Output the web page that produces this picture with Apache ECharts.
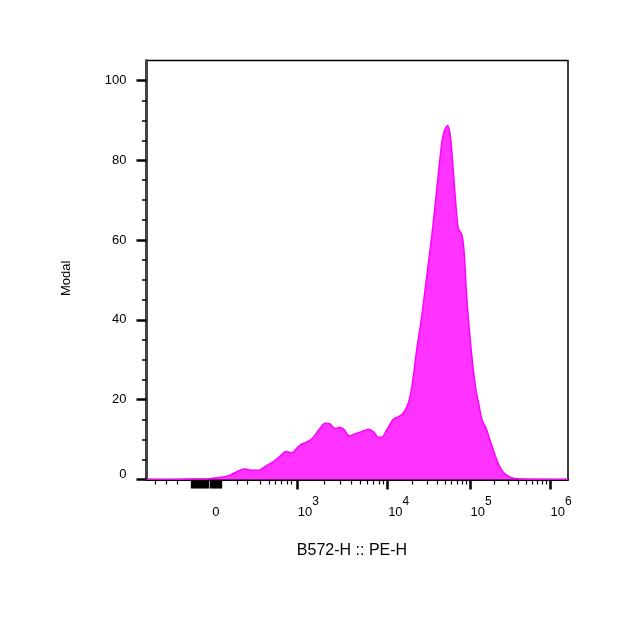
<!DOCTYPE html>
<html>
<head>
<meta charset="utf-8">
<script src="https://cdn.jsdelivr.net/npm/echarts@6/dist/echarts.min.js"></script>
<style>
html,body{margin:0;padding:0;background:#fff;}
#chart{width:629px;height:619px;}
</style>
</head>
<body>
<div id="chart"></div>
<script>
// Histogram x positions in display channels (0..1024, biexponential display scale)
const xChannels = [0, 57, 118, 142, 159, 178.6, 202.9, 222.3, 239.3, 255.6, 271.6, 290.3, 308, 324.3, 338.9, 353.5, 365.6, 377.8, 397.2, 409.4, 421.5, 433.6, 445.8, 458, 470.1, 479.8, 492.7, 506.5, 522.8, 538.8, 551, 563.1, 571.4, 583.5, 599.6, 611.7, 623.9, 636, 645, 656.4, 668.6, 680.7, 692.9, 705, 717.2, 724, 731.7, 737.3, 741.5, 749.5, 757.5, 765.7, 771.3, 777.9, 785.9, 793.9, 800.5, 807.8, 815.1, 824.8, 834.5, 844.2, 853.9, 866.1, 883.1, 907.4, 1024];
// Modal (% of max) values
const modal = [0, 0, 0.1, 0.1, 0.3, 0.5, 1.1, 2.1, 2.6, 2.3, 2.3, 3.4, 4.5, 5.8, 7.0, 6.7, 7.9, 8.9, 9.8, 11.1, 12.8, 14.1, 13.9, 12.8, 13.1, 12.5, 10.9, 11.4, 12.0, 12.6, 12.0, 10.6, 10.6, 12.4, 15.1, 15.7, 16.6, 19.1, 23.4, 32.4, 40.8, 50.8, 60.8, 72.5, 84.2, 87.5, 88.7, 86.7, 82.5, 71.6, 62.9, 61.5, 57.4, 45.8, 35.7, 27.4, 22.4, 18.6, 14.9, 12.9, 9.9, 6.9, 4.1, 1.9, 0.6, 0.1, 0];

// Axis tick data (display channels)
const zeroChannel = 168.8;
const decadeChannels = [366.4, 586.0, 785.9, 980.3];
const decadeExponents = ['3', '4', '5', '6'];
const lowMinorChannels = [22.4, 49.1, 75.8, 221.6, 244.9, 277.4, 297.6, 313.9, 328.5, 342.1, 352.7];
const denseChannels = [110, 115, 120, 125, 130, 135, 140, 145, 150, 155, 160, 165, 170, 175, 180];
const yMajorTicks = [0, 20, 40, 60, 80, 100];
const yMinorTicks = [5, 10, 15, 25, 30, 35, 45, 50, 55, 65, 70, 75, 85, 90, 95];

const minorDecade = [];
for (let k = 0; k < decadeChannels.length - 1; k++) {
  for (let m = 2; m <= 9; m++) {
    minorDecade.push(decadeChannels[k] + Math.log10(m) * (decadeChannels[k + 1] - decadeChannels[k]));
  }
}
const xMinorTicks = lowMinorChannels.concat(minorDecade);
const xLabelValues = [zeroChannel].concat(decadeChannels);

const FONT = 'Liberation Sans, Arial, sans-serif';
const chart = echarts.init(document.getElementById('chart'), null, {renderer: 'canvas'});

const baseX = {
  type: 'value', min: 0, max: 1024, position: 'bottom', gridIndex: 0,
  splitLine: {show: false},
  axisLine: {show: false, onZero: false},
  axisLabel: {show: false},
  axisTick: {show: false}
};
const baseY = {
  type: 'value', min: 0, max: 105, position: 'left', gridIndex: 0,
  splitLine: {show: false},
  axisLine: {show: false, onZero: false},
  axisLabel: {show: false},
  axisTick: {show: false}
};

chart.setOption({
  backgroundColor: '#ffffff',
  animation: false,
  grid: {left: 146.5, right: 61, top: 60.5, bottom: 139.5, show: true, borderColor: '#000', borderWidth: 1.5, backgroundColor: '#fff'},
  xAxis: [
    Object.assign({}, baseX, {
      axisLine: {show: true, onZero: false, lineStyle: {color: '#000', width: 2}},
      axisTick: {show: true, customValues: decadeChannels, length: 10, lineStyle: {color: '#000', width: 2.5}},
      axisLabel: {
        show: true, customValues: xLabelValues, margin: 16, color: '#000', fontFamily: FONT, fontSize: 13,
        formatter: function (v) {
          for (let i = 0; i < decadeChannels.length; i++) {
            if (Math.abs(v - decadeChannels[i]) < 0.01) return '{b|10}{s|' + decadeExponents[i] + '}';
          }
          return '{z|0}';
        },
        rich: {
          b: {fontFamily: FONT, fontSize: 13, color: '#000', padding: [0, 0, 0, 22], verticalAlign: 'bottom', lineHeight: 23},
          s: {fontFamily: FONT, fontSize: 12, color: '#000', verticalAlign: 'top', lineHeight: 23},
          z: {fontFamily: FONT, fontSize: 13, color: '#000', verticalAlign: 'bottom', lineHeight: 23}
        }
      }
    }),
    Object.assign({}, baseX, {
      axisTick: {show: true, customValues: xMinorTicks, length: 5, lineStyle: {color: '#000', width: 1.2}},
      axisLabel: {show: false, customValues: xMinorTicks}
    }),
    Object.assign({}, baseX, {
      axisTick: {show: true, customValues: denseChannels, length: 9, lineStyle: {color: '#000', width: 2.4}},
      axisLabel: {show: false, customValues: denseChannels}
    })
  ],
  yAxis: [
    Object.assign({}, baseY, {
      axisLine: {show: true, onZero: false, lineStyle: {color: '#444', width: 3}},
      axisTick: {show: true, customValues: yMajorTicks, length: 10, lineStyle: {color: '#000', width: 2.5}},
      axisLabel: {
        show: true, customValues: yMajorTicks, margin: 20, color: '#000', fontFamily: FONT, fontSize: 13,
        formatter: function (v) { return v === 0 ? '{z|0}' : String(v); },
        rich: {z: {fontFamily: FONT, fontSize: 13, color: '#000', padding: [0, 0, 10, 0]}}
      }
    }),
    Object.assign({}, baseY, {
      axisTick: {show: true, customValues: yMinorTicks, length: 4.5, lineStyle: {color: '#000', width: 1.5}},
      axisLabel: {show: false, customValues: yMinorTicks}
    })
  ],
  graphic: [
    {type: 'text', x: 60, y: 296, rotation: Math.PI / 2, style: {text: 'Modal', fill: '#000', font: '13px ' + FONT}},
    {type: 'text', x: 352, y: 551, style: {text: 'B572-H :: PE-H', fill: '#000', font: '16px ' + FONT, textAlign: 'center', textVerticalAlign: 'middle'}}
  ],
  series: [{
    type: 'line',
    xAxisIndex: 0, yAxisIndex: 0,
    data: xChannels.map((x, i) => [x, modal[i]]),
    symbol: 'none',
    smooth: 0.3,
    lineStyle: {color: '#FF00FF', width: 1.5},
    areaStyle: {color: '#FF33FF', opacity: 1},
    z: 1
  }]
});
</script>
</body>
</html>
